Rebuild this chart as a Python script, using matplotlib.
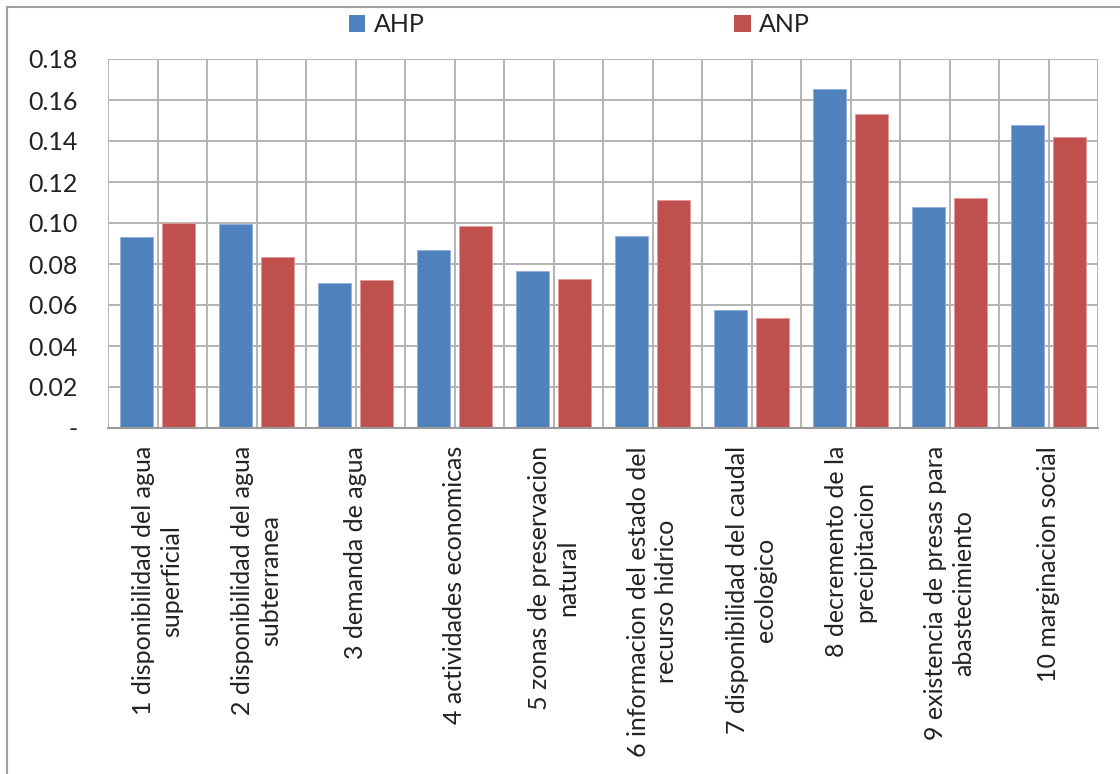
import matplotlib
matplotlib.use("Agg")
import matplotlib.pyplot as plt
from matplotlib.patches import Patch
from matplotlib.lines import Line2D
import numpy as np

plt.rcParams['font.family'] = ['Lato', 'DejaVu Sans']

categories = [
    "1 disponibilidad del agua\nsuperficial",
    "2 disponibilidad del agua\nsubterranea",
    "3 demanda de agua",
    "4 actividades economicas",
    "5 zonas de preservacion\nnatural",
    "6 informacion del estado del\nrecurso hidrico",
    "7 disponibilidad del caudal\necologico",
    "8 decremento de la\nprecipitacion",
    "9 existencia de presas para\nabastecimiento",
    "10 marginacion social",
]
ahp = [0.0933, 0.0993, 0.0707, 0.0866, 0.0768, 0.0935, 0.0577, 0.1654, 0.1076, 0.1476]
anp = [0.0998, 0.0833, 0.0724, 0.0983, 0.0727, 0.1114, 0.0538, 0.1530, 0.1122, 0.1418]
yticks = [0.0, 0.02, 0.04, 0.06, 0.08, 0.10, 0.12, 0.14, 0.16, 0.18]
ytick_labels = ["-", "0.02", "0.04", "0.06", "0.08", "0.10", "0.12", "0.14", "0.16", "0.18"]

blue = "#4F81BD"
red = "#C0504D"
grid_c = "#b3b3b3"
text_c = "#222222"
fs = 18

W, H = 1120, 774
fig = plt.figure(figsize=(W / 100, H / 100), dpi=100)
ax = fig.add_axes([108 / W, (H - 428) / H, 990 / W, 369 / H])

x = np.arange(len(categories))
bw = 0.333
off = 0.208
ax.bar(x - off, ahp, width=bw, color=blue, edgecolor="#8fb0dc", linewidth=0.6, zorder=3)
ax.bar(x + off, anp, width=bw, color=red, edgecolor="#e09a98", linewidth=0.6, zorder=3)

ax.set_xlim(-0.5, len(categories) - 0.5)
ax.set_ylim(0, 0.18)

# horizontal gridlines at each tick, vertical gridlines at half-category steps
for y in yticks[1:]:
    ax.axhline(y, color=grid_c, lw=1.4, zorder=1)
for v in np.arange(-0.5, len(categories), 0.5):
    ax.axvline(v, color=grid_c, lw=1.4, zorder=1)

for s in ["top", "right", "left"]:
    ax.spines[s].set_visible(False)
ax.spines["bottom"].set_color("#9a9a9a")
ax.spines["bottom"].set_linewidth(1.5)
ax.spines["bottom"].set_zorder(4)

ax.set_yticks(yticks)
ax.set_yticklabels(ytick_labels)
ax.tick_params(axis="y", length=0, pad=22, labelsize=fs, labelcolor=text_c)

ax.set_xticks(x)
ax.set_xticklabels(categories, rotation=90, ha="center", va="top",
                   multialignment="center", fontsize=fs, color=text_c,
                   linespacing=1.3)
ax.tick_params(axis="x", length=0, pad=13)

# legend along the top
handles = [Patch(facecolor=blue, edgecolor="none"), Patch(facecolor=red, edgecolor="none")]
fig.legend(handles, ["AHP", "ANP"], loc="upper left",
           bbox_to_anchor=(326 / W, 1 + 9 / H), ncol=2, frameon=False,
           fontsize=fs, handlelength=0.65, handleheight=0.65, handletextpad=0.35,
           columnspacing=12.4, labelcolor=text_c)

# outer frame: top and left edges
fig.add_artist(Line2D([7 / W, 1], [1 - 7 / H, 1 - 7 / H], color="#a0a0a0", lw=1.5,
                      transform=fig.transFigure))
fig.add_artist(Line2D([7 / W, 7 / W], [0, 1 - 7 / H], color="#a0a0a0", lw=1.5,
                      transform=fig.transFigure))

fig.savefig("out.png", dpi=100)
